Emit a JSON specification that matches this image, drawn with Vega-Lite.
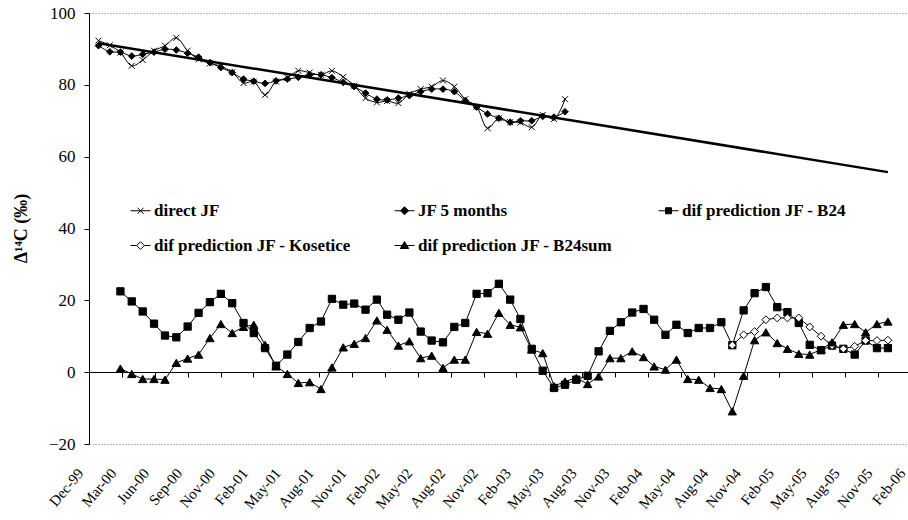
{
"$schema":"https://vega.github.io/schema/vega-lite/v6.json",
"width":819,"height":431,
"autosize":{"type":"none"},
"padding":{"left":89,"top":13,"right":0,"bottom":76},
"background":"white",
"config":{"view":{"stroke":null},"font":"Liberation Serif"},
"datasets":{
"trend":[{"date":"2000-01-01","value":91.6},{"date":"2005-12-01","value":55.7}],
"obs":[
{"date":"2000-01-01","series":"direct JF","value":92.3},{"date":"2000-02-01","series":"direct JF","value":91.0},{"date":"2000-03-01","series":"direct JF","value":89.0},{"date":"2000-04-01","series":"direct JF","value":85.3},{"date":"2000-05-01","series":"direct JF","value":86.9},{"date":"2000-06-01","series":"direct JF","value":89.5},{"date":"2000-07-01","series":"direct JF","value":90.9},{"date":"2000-08-01","series":"direct JF","value":93.1},{"date":"2000-09-01","series":"direct JF","value":89.5},{"date":"2000-10-01","series":"direct JF","value":87.1},{"date":"2000-11-01","series":"direct JF","value":86.0},{"date":"2000-12-01","series":"direct JF","value":85.2},
{"date":"2001-01-01","series":"direct JF","value":83.5},{"date":"2001-02-01","series":"direct JF","value":80.5},{"date":"2001-03-01","series":"direct JF","value":80.9},{"date":"2001-04-01","series":"direct JF","value":77.2},{"date":"2001-05-01","series":"direct JF","value":80.9},{"date":"2001-06-01","series":"direct JF","value":82.0},{"date":"2001-07-01","series":"direct JF","value":83.9},{"date":"2001-08-01","series":"direct JF","value":83.4},{"date":"2001-09-01","series":"direct JF","value":82.8},{"date":"2001-10-01","series":"direct JF","value":83.9},{"date":"2001-11-01","series":"direct JF","value":82.2},{"date":"2001-12-01","series":"direct JF","value":79.8},
{"date":"2002-01-01","series":"direct JF","value":76.3},{"date":"2002-02-01","series":"direct JF","value":75.1},{"date":"2002-03-01","series":"direct JF","value":75.5},{"date":"2002-04-01","series":"direct JF","value":74.9},{"date":"2002-05-01","series":"direct JF","value":77.5},{"date":"2002-06-01","series":"direct JF","value":78.8},{"date":"2002-07-01","series":"direct JF","value":79.5},{"date":"2002-08-01","series":"direct JF","value":81.2},{"date":"2002-09-01","series":"direct JF","value":79.5},{"date":"2002-10-01","series":"direct JF","value":76.0},{"date":"2002-11-01","series":"direct JF","value":73.9},{"date":"2002-12-01","series":"direct JF","value":67.9},
{"date":"2003-01-01","series":"direct JF","value":70.7},{"date":"2003-02-01","series":"direct JF","value":69.6},{"date":"2003-03-01","series":"direct JF","value":69.5},{"date":"2003-04-01","series":"direct JF","value":68.2},{"date":"2003-05-01","series":"direct JF","value":71.6},{"date":"2003-06-01","series":"direct JF","value":70.5},{"date":"2003-07-01","series":"direct JF","value":76.0},
{"date":"2000-01-01","series":"JF 5 months","value":90.9},{"date":"2000-02-01","series":"JF 5 months","value":89.2},{"date":"2000-03-01","series":"JF 5 months","value":89.1},{"date":"2000-04-01","series":"JF 5 months","value":88.0},{"date":"2000-05-01","series":"JF 5 months","value":88.5},{"date":"2000-06-01","series":"JF 5 months","value":89.1},{"date":"2000-07-01","series":"JF 5 months","value":89.9},{"date":"2000-08-01","series":"JF 5 months","value":89.7},{"date":"2000-09-01","series":"JF 5 months","value":88.8},{"date":"2000-10-01","series":"JF 5 months","value":87.7},{"date":"2000-11-01","series":"JF 5 months","value":86.2},{"date":"2000-12-01","series":"JF 5 months","value":84.8},
{"date":"2001-01-01","series":"JF 5 months","value":83.4},{"date":"2001-02-01","series":"JF 5 months","value":81.6},{"date":"2001-03-01","series":"JF 5 months","value":81.0},{"date":"2001-04-01","series":"JF 5 months","value":80.4},{"date":"2001-05-01","series":"JF 5 months","value":81.1},{"date":"2001-06-01","series":"JF 5 months","value":81.6},{"date":"2001-07-01","series":"JF 5 months","value":82.1},{"date":"2001-08-01","series":"JF 5 months","value":82.8},{"date":"2001-09-01","series":"JF 5 months","value":82.8},{"date":"2001-10-01","series":"JF 5 months","value":82.0},{"date":"2001-11-01","series":"JF 5 months","value":80.7},{"date":"2001-12-01","series":"JF 5 months","value":79.5},
{"date":"2002-01-01","series":"JF 5 months","value":77.7},{"date":"2002-02-01","series":"JF 5 months","value":76.0},{"date":"2002-03-01","series":"JF 5 months","value":75.8},{"date":"2002-04-01","series":"JF 5 months","value":76.3},{"date":"2002-05-01","series":"JF 5 months","value":77.0},{"date":"2002-06-01","series":"JF 5 months","value":78.1},{"date":"2002-07-01","series":"JF 5 months","value":78.8},{"date":"2002-08-01","series":"JF 5 months","value":78.8},{"date":"2002-09-01","series":"JF 5 months","value":78.1},{"date":"2002-10-01","series":"JF 5 months","value":75.6},{"date":"2002-11-01","series":"JF 5 months","value":73.8},{"date":"2002-12-01","series":"JF 5 months","value":71.9},
{"date":"2003-01-01","series":"JF 5 months","value":70.7},{"date":"2003-02-01","series":"JF 5 months","value":69.6},{"date":"2003-03-01","series":"JF 5 months","value":70.0},{"date":"2003-04-01","series":"JF 5 months","value":70.0},{"date":"2003-05-01","series":"JF 5 months","value":71.2},{"date":"2003-06-01","series":"JF 5 months","value":71.0},{"date":"2003-07-01","series":"JF 5 months","value":72.5},
{"date":"2000-03-01","series":"dif prediction JF - B24","value":22.5},{"date":"2000-04-01","series":"dif prediction JF - B24","value":19.7},{"date":"2000-05-01","series":"dif prediction JF - B24","value":16.9},{"date":"2000-06-01","series":"dif prediction JF - B24","value":13.5},{"date":"2000-07-01","series":"dif prediction JF - B24","value":10.2},{"date":"2000-08-01","series":"dif prediction JF - B24","value":9.7},{"date":"2000-09-01","series":"dif prediction JF - B24","value":12.7},{"date":"2000-10-01","series":"dif prediction JF - B24","value":16.5},{"date":"2000-11-01","series":"dif prediction JF - B24","value":19.5},{"date":"2000-12-01","series":"dif prediction JF - B24","value":21.8},
{"date":"2001-01-01","series":"dif prediction JF - B24","value":19.2},{"date":"2001-02-01","series":"dif prediction JF - B24","value":13.7},{"date":"2001-03-01","series":"dif prediction JF - B24","value":10.9},{"date":"2001-04-01","series":"dif prediction JF - B24","value":6.7},{"date":"2001-05-01","series":"dif prediction JF - B24","value":1.8},{"date":"2001-06-01","series":"dif prediction JF - B24","value":4.9},{"date":"2001-07-01","series":"dif prediction JF - B24","value":8.4},{"date":"2001-08-01","series":"dif prediction JF - B24","value":12.3},{"date":"2001-09-01","series":"dif prediction JF - B24","value":14.1},{"date":"2001-10-01","series":"dif prediction JF - B24","value":20.4},{"date":"2001-11-01","series":"dif prediction JF - B24","value":18.8},{"date":"2001-12-01","series":"dif prediction JF - B24","value":19.1},
{"date":"2002-01-01","series":"dif prediction JF - B24","value":17.4},{"date":"2002-02-01","series":"dif prediction JF - B24","value":20.2},{"date":"2002-03-01","series":"dif prediction JF - B24","value":16.0},{"date":"2002-04-01","series":"dif prediction JF - B24","value":14.6},{"date":"2002-05-01","series":"dif prediction JF - B24","value":16.6},{"date":"2002-06-01","series":"dif prediction JF - B24","value":11.3},{"date":"2002-07-01","series":"dif prediction JF - B24","value":8.8},{"date":"2002-08-01","series":"dif prediction JF - B24","value":8.3},{"date":"2002-09-01","series":"dif prediction JF - B24","value":12.6},{"date":"2002-10-01","series":"dif prediction JF - B24","value":13.7},{"date":"2002-11-01","series":"dif prediction JF - B24","value":21.8},{"date":"2002-12-01","series":"dif prediction JF - B24","value":22.0},
{"date":"2003-01-01","series":"dif prediction JF - B24","value":24.6},{"date":"2003-02-01","series":"dif prediction JF - B24","value":20.2},{"date":"2003-03-01","series":"dif prediction JF - B24","value":14.8},{"date":"2003-04-01","series":"dif prediction JF - B24","value":6.5},{"date":"2003-05-01","series":"dif prediction JF - B24","value":0.4},{"date":"2003-06-01","series":"dif prediction JF - B24","value":-4.4},{"date":"2003-07-01","series":"dif prediction JF - B24","value":-3.5},{"date":"2003-08-01","series":"dif prediction JF - B24","value":-2.1},{"date":"2003-09-01","series":"dif prediction JF - B24","value":-1.0},{"date":"2003-10-01","series":"dif prediction JF - B24","value":5.8},{"date":"2003-11-01","series":"dif prediction JF - B24","value":11.5},{"date":"2003-12-01","series":"dif prediction JF - B24","value":13.9},
{"date":"2004-01-01","series":"dif prediction JF - B24","value":16.6},{"date":"2004-02-01","series":"dif prediction JF - B24","value":17.6},{"date":"2004-03-01","series":"dif prediction JF - B24","value":14.6},{"date":"2004-04-01","series":"dif prediction JF - B24","value":10.4},{"date":"2004-05-01","series":"dif prediction JF - B24","value":13.2},{"date":"2004-06-01","series":"dif prediction JF - B24","value":10.9},{"date":"2004-07-01","series":"dif prediction JF - B24","value":12.3},{"date":"2004-08-01","series":"dif prediction JF - B24","value":12.3},{"date":"2004-09-01","series":"dif prediction JF - B24","value":13.9},{"date":"2004-10-01","series":"dif prediction JF - B24","value":7.5},{"date":"2004-11-01","series":"dif prediction JF - B24","value":17.2},{"date":"2004-12-01","series":"dif prediction JF - B24","value":22.0},
{"date":"2005-01-01","series":"dif prediction JF - B24","value":23.7},{"date":"2005-02-01","series":"dif prediction JF - B24","value":18.1},{"date":"2005-03-01","series":"dif prediction JF - B24","value":16.7},{"date":"2005-04-01","series":"dif prediction JF - B24","value":13.7},{"date":"2005-05-01","series":"dif prediction JF - B24","value":7.6},{"date":"2005-06-01","series":"dif prediction JF - B24","value":6.1},{"date":"2005-07-01","series":"dif prediction JF - B24","value":7.4},{"date":"2005-08-01","series":"dif prediction JF - B24","value":6.5},{"date":"2005-09-01","series":"dif prediction JF - B24","value":4.9},{"date":"2005-10-01","series":"dif prediction JF - B24","value":8.8},{"date":"2005-11-01","series":"dif prediction JF - B24","value":6.7},{"date":"2005-12-01","series":"dif prediction JF - B24","value":6.7},
{"date":"2004-10-01","series":"dif prediction JF - Kosetice","value":7.5},{"date":"2004-11-01","series":"dif prediction JF - Kosetice","value":10.4},{"date":"2004-12-01","series":"dif prediction JF - Kosetice","value":11.3},{"date":"2005-01-01","series":"dif prediction JF - Kosetice","value":14.6},{"date":"2005-02-01","series":"dif prediction JF - Kosetice","value":15.1},{"date":"2005-03-01","series":"dif prediction JF - Kosetice","value":15.1},{"date":"2005-04-01","series":"dif prediction JF - Kosetice","value":15.1},{"date":"2005-05-01","series":"dif prediction JF - Kosetice","value":12.6},{"date":"2005-06-01","series":"dif prediction JF - Kosetice","value":10.0},{"date":"2005-07-01","series":"dif prediction JF - Kosetice","value":7.4},{"date":"2005-08-01","series":"dif prediction JF - Kosetice","value":6.5},{"date":"2005-09-01","series":"dif prediction JF - Kosetice","value":7.2},{"date":"2005-10-01","series":"dif prediction JF - Kosetice","value":8.8},{"date":"2005-11-01","series":"dif prediction JF - Kosetice","value":8.8},{"date":"2005-12-01","series":"dif prediction JF - Kosetice","value":8.9},
{"date":"2000-03-01","series":"dif prediction JF - B24sum","value":1.0},{"date":"2000-04-01","series":"dif prediction JF - B24sum","value":-0.5},{"date":"2000-05-01","series":"dif prediction JF - B24sum","value":-1.9},{"date":"2000-06-01","series":"dif prediction JF - B24sum","value":-1.9},{"date":"2000-07-01","series":"dif prediction JF - B24sum","value":-2.1},{"date":"2000-08-01","series":"dif prediction JF - B24sum","value":2.6},{"date":"2000-09-01","series":"dif prediction JF - B24sum","value":3.8},{"date":"2000-10-01","series":"dif prediction JF - B24sum","value":4.9},{"date":"2000-11-01","series":"dif prediction JF - B24sum","value":9.5},{"date":"2000-12-01","series":"dif prediction JF - B24sum","value":13.4},
{"date":"2001-01-01","series":"dif prediction JF - B24sum","value":10.9},{"date":"2001-02-01","series":"dif prediction JF - B24sum","value":12.6},{"date":"2001-03-01","series":"dif prediction JF - B24sum","value":13.2},{"date":"2001-04-01","series":"dif prediction JF - B24sum","value":7.6},{"date":"2001-05-01","series":"dif prediction JF - B24sum","value":1.6},{"date":"2001-06-01","series":"dif prediction JF - B24sum","value":-0.5},{"date":"2001-07-01","series":"dif prediction JF - B24sum","value":-3.0},{"date":"2001-08-01","series":"dif prediction JF - B24sum","value":-2.8},{"date":"2001-09-01","series":"dif prediction JF - B24sum","value":-4.7},{"date":"2001-10-01","series":"dif prediction JF - B24sum","value":1.3},{"date":"2001-11-01","series":"dif prediction JF - B24sum","value":6.9},{"date":"2001-12-01","series":"dif prediction JF - B24sum","value":7.9},
{"date":"2002-01-01","series":"dif prediction JF - B24sum","value":9.5},{"date":"2002-02-01","series":"dif prediction JF - B24sum","value":14.4},{"date":"2002-03-01","series":"dif prediction JF - B24sum","value":11.8},{"date":"2002-04-01","series":"dif prediction JF - B24sum","value":7.4},{"date":"2002-05-01","series":"dif prediction JF - B24sum","value":8.6},{"date":"2002-06-01","series":"dif prediction JF - B24sum","value":3.9},{"date":"2002-07-01","series":"dif prediction JF - B24sum","value":4.6},{"date":"2002-08-01","series":"dif prediction JF - B24sum","value":1.2},{"date":"2002-09-01","series":"dif prediction JF - B24sum","value":3.5},{"date":"2002-10-01","series":"dif prediction JF - B24sum","value":3.5},{"date":"2002-11-01","series":"dif prediction JF - B24sum","value":11.2},{"date":"2002-12-01","series":"dif prediction JF - B24sum","value":10.7},
{"date":"2003-01-01","series":"dif prediction JF - B24sum","value":16.5},{"date":"2003-02-01","series":"dif prediction JF - B24sum","value":13.2},{"date":"2003-03-01","series":"dif prediction JF - B24sum","value":12.5},{"date":"2003-04-01","series":"dif prediction JF - B24sum","value":6.3},{"date":"2003-05-01","series":"dif prediction JF - B24sum","value":5.3},{"date":"2003-06-01","series":"dif prediction JF - B24sum","value":-3.9},{"date":"2003-07-01","series":"dif prediction JF - B24sum","value":-2.6},{"date":"2003-08-01","series":"dif prediction JF - B24sum","value":-1.6},{"date":"2003-09-01","series":"dif prediction JF - B24sum","value":-3.3},{"date":"2003-10-01","series":"dif prediction JF - B24sum","value":-1.2},{"date":"2003-11-01","series":"dif prediction JF - B24sum","value":3.9},{"date":"2003-12-01","series":"dif prediction JF - B24sum","value":3.9},
{"date":"2004-01-01","series":"dif prediction JF - B24sum","value":5.8},{"date":"2004-02-01","series":"dif prediction JF - B24sum","value":4.2},{"date":"2004-03-01","series":"dif prediction JF - B24sum","value":1.6},{"date":"2004-04-01","series":"dif prediction JF - B24sum","value":0.7},{"date":"2004-05-01","series":"dif prediction JF - B24sum","value":3.5},{"date":"2004-06-01","series":"dif prediction JF - B24sum","value":-1.9},{"date":"2004-07-01","series":"dif prediction JF - B24sum","value":-2.1},{"date":"2004-08-01","series":"dif prediction JF - B24sum","value":-4.4},{"date":"2004-09-01","series":"dif prediction JF - B24sum","value":-4.7},{"date":"2004-10-01","series":"dif prediction JF - B24sum","value":-10.9},{"date":"2004-11-01","series":"dif prediction JF - B24sum","value":-1.0},{"date":"2004-12-01","series":"dif prediction JF - B24sum","value":8.9},
{"date":"2005-01-01","series":"dif prediction JF - B24sum","value":11.1},{"date":"2005-02-01","series":"dif prediction JF - B24sum","value":8.1},{"date":"2005-03-01","series":"dif prediction JF - B24sum","value":6.5},{"date":"2005-04-01","series":"dif prediction JF - B24sum","value":5.1},{"date":"2005-05-01","series":"dif prediction JF - B24sum","value":4.9},{"date":"2005-06-01","series":"dif prediction JF - B24sum","value":6.3},{"date":"2005-07-01","series":"dif prediction JF - B24sum","value":8.3},{"date":"2005-08-01","series":"dif prediction JF - B24sum","value":13.2},{"date":"2005-09-01","series":"dif prediction JF - B24sum","value":13.4},{"date":"2005-10-01","series":"dif prediction JF - B24sum","value":11.1},{"date":"2005-11-01","series":"dif prediction JF - B24sum","value":13.4},{"date":"2005-12-01","series":"dif prediction JF - B24sum","value":14.1}
]},
"encoding":{
"x":{"field":"date","type":"temporal",
"scale":{"type":"utc","domain":[{"year":1999,"month":12,"date":6,"utc":true},{"year":2006,"month":2,"date":3,"utc":true}],"range":[0,822.3]},
"axis":{"orient":"bottom","offset":-72,"title":null,"grid":false,
"values":[{"year":1999,"month":12,"date":6,"utc":true},{"year":2000,"month":3,"date":5,"utc":true},{"year":2000,"month":6,"date":3,"utc":true},{"year":2000,"month":9,"date":1,"utc":true},{"year":2000,"month":11,"date":30,"utc":true},{"year":2001,"month":2,"date":28,"utc":true},{"year":2001,"month":5,"date":29,"utc":true},{"year":2001,"month":8,"date":27,"utc":true},{"year":2001,"month":11,"date":25,"utc":true},{"year":2002,"month":2,"date":23,"utc":true},{"year":2002,"month":5,"date":24,"utc":true},{"year":2002,"month":8,"date":22,"utc":true},{"year":2002,"month":11,"date":20,"utc":true},{"year":2003,"month":2,"date":18,"utc":true},{"year":2003,"month":5,"date":19,"utc":true},{"year":2003,"month":8,"date":17,"utc":true},{"year":2003,"month":11,"date":15,"utc":true},{"year":2004,"month":2,"date":13,"utc":true},{"year":2004,"month":5,"date":13,"utc":true},{"year":2004,"month":8,"date":11,"utc":true},{"year":2004,"month":11,"date":9,"utc":true},{"year":2005,"month":2,"date":7,"utc":true},{"year":2005,"month":5,"date":8,"utc":true},{"year":2005,"month":8,"date":6,"utc":true},{"year":2005,"month":11,"date":4,"utc":true},{"year":2006,"month":2,"date":2,"utc":true}],
"labelExpr":"utcFormat(datum.value, '%b-%y')",
"domainColor":"black","domainWidth":1,"tickColor":"black","tickSize":5,"tickWidth":1,
"labelAngle":-50,"labelAlign":"right","labelBaseline":"middle","labelPadding":93,"labelOffset":-9,
"labelFont":"Liberation Serif","labelFontSize":15,"labelColor":"black","labelOverlap":false,"labelBound":false,"labelFlush":false}},
"y":{"field":"value","type":"quantitative",
"scale":{"domain":[-20,100],"nice":false,"zero":false},
"axis":{"values":[-20,0,20,40,60,80,100],"domainColor":"black","domainWidth":1,"tickColor":"black","tickSize":5,"tickWidth":1,
"labelFont":"Liberation Serif","labelFontSize":17,"labelColor":"black","labelPadding":9,
"grid":true,"gridColor":"#777777","gridDash":[1,2],"gridWidth":1,
"gridOpacity":{"condition":{"test":"datum.value === 100 || datum.value === -20","value":1},"value":0},
"title":"Δ¹⁴C (‰)","titleFont":"Liberation Serif","titleFontSize":18,"titleFontWeight":"bold","titleColor":"black",
"titleX":-68,"titleY":215,"titleAngle":-90,"titleAlign":"center","titleBaseline":"middle"}}
},
"resolve":{"scale":{"shape":"independent","fill":"independent","size":"independent","stroke":"independent"}},
"layer":[
{"data":{"name":"trend"},"mark":{"type":"line","color":"black","strokeWidth":2.5}},
{"data":{"name":"obs"},
"transform":[{"filter":"datum.series === 'direct JF' || datum.series === 'JF 5 months'"}],
"mark":{"type":"line","strokeWidth":1,"interpolate":"catmull-rom"},
"encoding":{"color":{"field":"series","type":"nominal","legend":null,
"scale":{"domain":["direct JF","JF 5 months","dif prediction JF - B24","dif prediction JF - Kosetice","dif prediction JF - B24sum"],"range":["black","black","black","black","black"]}}}},
{"data":{"name":"obs"},
"transform":[{"filter":"datum.series !== 'direct JF' && datum.series !== 'JF 5 months'"}],
"mark":{"type":"line","strokeWidth":1},
"encoding":{"color":{"field":"series","type":"nominal","legend":null,
"scale":{"domain":["direct JF","JF 5 months","dif prediction JF - B24","dif prediction JF - Kosetice","dif prediction JF - B24sum"],"range":["black","black","black","black","black"]}}}},
{"data":{"name":"obs"},
"mark":{"type":"point","filled":true,"stroke":"black","strokeWidth":1,"opacity":1},
"encoding":{
"shape":{"field":"series","type":"nominal","legend":null,
"scale":{"domain":["direct JF","JF 5 months","dif prediction JF - B24","dif prediction JF - Kosetice","dif prediction JF - B24sum"],"range":["M-1,-1L1,1M-1,1L1,-1","diamond","square","diamond","triangle-up"]}},
"fill":{"field":"series","type":"nominal","legend":null,
"scale":{"domain":["direct JF","JF 5 months","dif prediction JF - B24","dif prediction JF - Kosetice","dif prediction JF - B24sum"],"range":["black","black","black","white","black"]}},
"size":{"field":"series","type":"ordinal","legend":null,
"scale":{"domain":["direct JF","JF 5 months","dif prediction JF - B24","dif prediction JF - Kosetice","dif prediction JF - B24sum"],"range":[36,70,49,45,64]}}}},
{"data":{"name":"obs"},
"transform":[{"filter":"false"}],
"mark":{"type":"point","filled":false,"strokeWidth":1,"opacity":1,"size":400},
"encoding":{
"shape":{"field":"series","type":"nominal",
"scale":{"domain":["direct JF","JF 5 months","dif prediction JF - B24","dif prediction JF - Kosetice","dif prediction JF - B24sum"],"range":["M-1,0L1,0M-0.3,-0.3L0.3,0.3M-0.3,0.3L0.3,-0.3","M-1,0L1,0M0,-0.4L0.4,0L0,0.4L-0.4,0Z","M-1,0L1,0M-0.3,-0.3L0.3,-0.3L0.3,0.3L-0.3,0.3Z","M-1,0L-0.38,0M0.38,0L1,0M0,-0.38L0.38,0L0,0.38L-0.38,0Z","M-1,0L1,0M0,-0.4L0.42,0.3L-0.42,0.3Z"]},
"legend":{"orient":"none","legendX":41,"legendY":187,"direction":"horizontal","columns":3,"title":null,"padding":0,"rowPadding":16,"columnPadding":40,"gridAlign":"all",
"symbolSize":400,"symbolStrokeWidth":1,"symbolStrokeColor":"black",
"labelFont":"Liberation Serif","labelFontSize":17,"labelFontWeight":"bold","labelColor":"black","labelOffset":3,"labelLimit":400}},
"fill":{"field":"series","type":"nominal",
"scale":{"domain":["direct JF","JF 5 months","dif prediction JF - B24","dif prediction JF - Kosetice","dif prediction JF - B24sum"],"range":["black","black","black","white","black"]},
"legend":{"orient":"none","legendX":41,"legendY":187,"direction":"horizontal","columns":3,"title":null,"padding":0,"rowPadding":16,"columnPadding":40,"gridAlign":"all",
"symbolSize":400,"symbolStrokeWidth":1,"symbolStrokeColor":"black",
"labelFont":"Liberation Serif","labelFontSize":17,"labelFontWeight":"bold","labelColor":"black","labelOffset":3,"labelLimit":400}},
"stroke":{"field":"series","type":"nominal",
"scale":{"domain":["direct JF","JF 5 months","dif prediction JF - B24","dif prediction JF - Kosetice","dif prediction JF - B24sum"],"range":["black","black","black","black","black"]},
"legend":{"orient":"none","legendX":41,"legendY":187,"direction":"horizontal","columns":3,"title":null,"padding":0,"rowPadding":16,"columnPadding":40,"gridAlign":"all",
"symbolSize":400,"symbolStrokeWidth":1,"symbolStrokeColor":"black",
"labelFont":"Liberation Serif","labelFontSize":17,"labelFontWeight":"bold","labelColor":"black","labelOffset":3,"labelLimit":400}}}}
]
}
